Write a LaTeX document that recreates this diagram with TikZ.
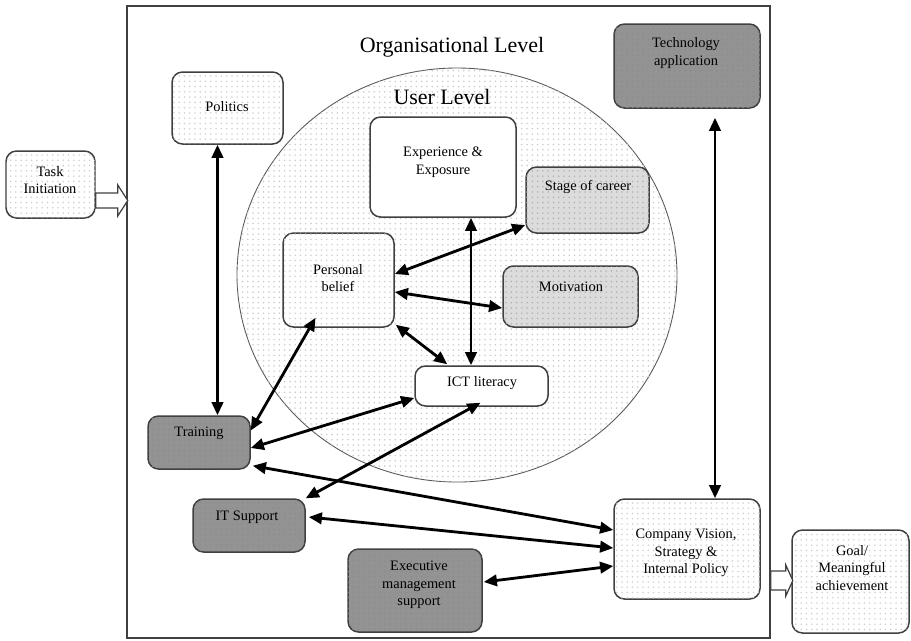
\documentclass[tikz,border=0pt]{standalone}
\usepackage{fontspec}
\setmainfont{Liberation Serif}
\usetikzlibrary{arrows.meta,patterns,fit,calc}

\definecolor{boxline}{HTML}{404040}
\definecolor{darkfill}{HTML}{939393}
\definecolor{lightfill}{HTML}{DCDCDC}

\begin{document}
\begin{tikzpicture}[x=0.02cm,y=-0.02cm,
  box/.style={draw=boxline, line width=0.85pt, rounded corners=6pt, inner sep=0pt},
  plainbox/.style={box, fill=white},
  whitebox/.style={box, fill=white, postaction={pattern=dots, pattern color=black!18}},
  greybox/.style={box, fill=lightfill, postaction={pattern=dots, pattern color=black!30}},
  darkbox/.style={box, fill=darkfill, postaction={pattern=dots, pattern color=black!45}},
  txt/.style={font=\fontsize{8.2}{10}\selectfont, align=center, inner sep=0pt},
  heading/.style={font=\fontsize{12.5}{15}\selectfont, inner sep=0pt},
  link/.style={{Triangle[length=7.5pt,width=6.5pt]}-{Triangle[length=7.5pt,width=6.5pt]}, line width=1.6pt, black},
  hollow/.style={draw=boxline, line width=0.7pt, fill=white, line join=miter},
]
\useasboundingbox (0,0) rectangle (911,640);

% organisational frame and user-level circle
\node[draw=boxline, line width=0.9pt, fill=white, inner sep=0pt, fit={(127,6) (770,638)}] (org) {};
\draw[draw=black!65, line width=0.5pt, fill=white, postaction={pattern=dots, pattern color=black!20}]
  (457,275) ellipse [x radius=220, y radius=207];
\node[heading] (orglbl) at (452,47) {Organisational Level};
\node[heading] (userlbl) at (442,97) {User Level};

% boxes
\node[whitebox, fit={(6,151) (95,218)}] (task) {};
\node[whitebox, fit={(172,72) (283,144)}] (pol) {};
\node[darkbox, fit={(614,24) (760,108)}] (tech) {};
\node[plainbox, fit={(370,117) (516,217)}] (exp) {};
\node[greybox, fit={(526,167) (649,233)}] (stage) {};
\node[whitebox, fit={(283,233) (394,327)}] (pb) {};
\node[greybox, fit={(503,266) (638,327)}] (mot) {};
\node[plainbox, fit={(415,366) (548,406)}] (ict) {};
\node[darkbox, fit={(148,416) (250,469)}] (train) {};
\node[darkbox, fit={(193,499) (305,552)}] (it) {};
\node[darkbox, fit={(348,549) (482,632)}] (exec) {};
\node[whitebox, fit={(614,499) (760,599)}] (comp) {};
\node[whitebox, fit={(792,530) (909,633)}] (goal) {};

% box texts
\node[txt] (taskt) at (50,180) {Task\\Initiation};
\node[txt] (polt) at (227,107) {Politics};
\node[txt] (techt) at (686,53) {Technology\\application};
\node[txt] (expt) at (443,162) {Experience \&\\Exposure};
\node[txt] (staget) at (588,187) {Stage of career};
\node[txt] (pbt) at (338,278) {Personal\\belief};
\node[txt] (mott) at (571,287) {Motivation};
\node[txt] (ictt) at (482,383) {ICT literacy};
\node[txt] (traint) at (199,433) {Training};
\node[txt] (itt) at (247,517) {IT Support};
\node[txt] (exect) at (419,585) {Executive\\management\\support};
\node[txt] (compt) at (686,553) {Company Vision,\\Strategy \&\\Internal Policy};
\node[txt] (goalt) at (852,568) {Goal/\\Meaningful\\achievement};

% hollow block arrows in and out of the organisation
\draw[hollow] ($(task.east)+(0,8.5)$) -- ++(22,0) -- ++(0,-8) -- ++(10,15.5)
  -- ++(-10,15.5) -- ++(0,-8) -- ++(-22,0) -- cycle;
\draw[hollow] ($(org.east |- goal.west)+(0,-10.5)$) -- ++(15,0) -- ++(0,-6) -- ++(7,15.5)
  -- ++(-7,15.5) -- ++(0,-6) -- ++(-15,0) -- cycle;

% two-way links
\coordinate (a1) at ($(pol.south)+(-10,0)$);
\draw[link] (a1) -- (a1 |- train.north);
\coordinate (a2) at ($(tech.south)+(28,9)$);
\draw[link] (a2) -- (a2 |- comp.north);
\coordinate (a3) at ($(exp.south)+(28,0)$);
\draw[link] (a3) -- (a3 |- ict.north);
\draw[link] ($(pb.east)+(0,-6)$) -- ($(stage.west)+(0,25)$);
\draw[link] ($(pb.east)+(0,12)$) -- ($(mot.west)+(0,11.5)$);
\draw[link] ($(pb.south east)+(1,-3)$) -- ($(ict.north west)+(33,-1)$);
\draw[link] ($(pb.south)+(-23,-10)$) -- ($(train.east)+(0,-12)$);
\draw[link] ($(train.east)+(0,5.5)$) -- ($(ict.west)+(0,12)$);
\draw[link] (it.north east) -- ($(ict.south)+(-1,-4)$);
\draw[link] ($(train.south east)+(2,-4)$) -- ($(comp.west)+(0,-19)$);
\draw[link] ($(it.east)+(3,-8.5)$) -- ($(comp.west)+(0,-1)$);
\draw[link] ($(exec.east)+(1,-8.5)$) -- ($(comp.west)+(0,17)$);
\end{tikzpicture}
\end{document}
